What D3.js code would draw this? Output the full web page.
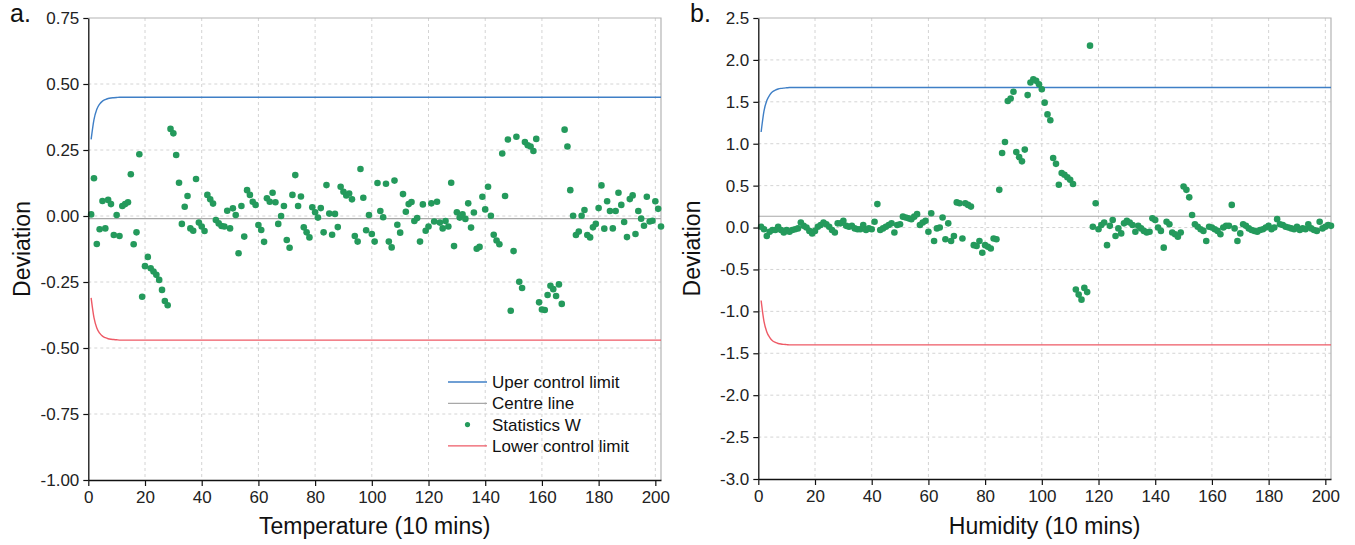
<!DOCTYPE html>
<html>
<head>
<meta charset="utf-8">
<script src="https://cdn.jsdelivr.net/npm/d3@7/dist/d3.min.js"></script>
<style>
  body { margin: 0; background: #fff; }
  text { font-family: "Liberation Sans", Arial, sans-serif; }
</style>
</head>
<body>
<div id="chart"></div>
<script>

// Statistics W, temperature (one value per 10-minute step, starting at step 1)
const tempW = [
  0.006, 0.143, -0.106, -0.05, 0.057, -0.047, 0.061, 0.045, -0.072, 0.004,
  -0.076, 0.038, 0.045, 0.052, 0.158, -0.107, -0.062, 0.234, -0.306, -0.19,
  -0.155, -0.198, -0.21, -0.223, -0.242, -0.28, -0.322, -0.338, 0.33, 0.313,
  0.231, 0.126, -0.03, 0.035, 0.076, -0.047, -0.056, 0.14, -0.025, -0.04,
  -0.057, 0.08, 0.063, 0.047, -0.015, -0.028, -0.038, -0.04, 0.02, -0.047,
  0.029, 0.004, -0.141, 0.038, -0.078, 0.098, 0.08, 0.054, 0.042, -0.034,
  -0.053, -0.098, 0.067, 0.054, 0.088, 0.052, -0.03, 0.0,
  0.038, -0.091, -0.12, 0.08, 0.155, 0.038, 0.074, -0.043, -0.062, -0.081,
  0.033, 0.014, -0.006, 0.03, -0.062, 0.117, 0.009, -0.071, 0.008, -0.042,
  0.111, 0.092, 0.078, 0.085, 0.063, -0.076, -0.097, 0.178, 0.069, -0.054,
  0.004, -0.068, -0.097, 0.125, 0.019, -0.005, 0.122, -0.097, -0.119, 0.134,
  -0.033, -0.063, 0.083, 0.016, 0.045, 0.053, -0.019, -0.008, -0.097, 0.044,
  -0.056, -0.04, 0.048, -0.021, 0.054, -0.025, -0.047, -0.019, -0.04, 0.126,
  -0.114, 0.014, -0.006, 0.006, -0.011,
  0.048, -0.044, 0.013, -0.124, -0.117, 0.073, 0.025, 0.111, 0.001, -0.071,
  -0.093, -0.107, 0.237, 0.076, 0.29, -0.359, -0.133, 0.30, -0.249, -0.273,
  0.28, 0.268, 0.263, 0.246, 0.292, -0.327, -0.354, -0.356, -0.299, -0.264,
  -0.277, -0.303, -0.259, -0.333, 0.327, 0.263, 0.098, 0.001, -0.072, -0.059,
  0.001, 0.023, -0.072, -0.081, -0.043, -0.03, 0.03, 0.116, -0.048, 0.056,
  0.019, -0.047, 0.019, 0.088, 0.042, -0.023, -0.08, 0.064, 0.078, -0.068,
  0.019, -0.01, -0.037, 0.073, -0.021, -0.018, 0.056, 0.027, -0.04
];

// Statistics W, humidity
const humW = [
  0.01, -0.02, -0.10, -0.05, -0.03, -0.03, 0.01, -0.03, -0.06, -0.03,
  -0.05, -0.03, -0.02, -0.01, 0.06, 0.02, 0.0, -0.04, -0.07, -0.04,
  0.01, 0.03, 0.06, 0.04, 0.01, -0.03, -0.06, 0.05, 0.05, 0.08,
  0.02, 0.01, 0.02, -0.01, -0.02, -0.02, 0.03, -0.03, -0.01, -0.02,
  0.07,
  0.28, -0.03, -0.01, 0.01, 0.03, 0.05, -0.06, 0.03, 0.04, 0.13,
  0.12, 0.11, 0.10, 0.13, 0.16, 0.03, 0.06, 0.08, -0.05, 0.17,
  -0.16, -0.01, 0.0, 0.12, -0.14, 0.05, -0.16, -0.10, 0.30, 0.29,
  -0.13, 0.29, 0.27, 0.25, -0.21, -0.22, -0.16, -0.30, -0.21, -0.23,
  -0.25, -0.13, -0.14, 0.45, 0.89, 1.02, 1.51, 1.54, 1.62, 0.90,
  0.84, 0.79, 0.93, 1.58, 1.73, 1.77, 1.75, 1.71, 1.65, 1.49,
  1.35, 1.28, 0.83, 0.76, 0.51, 0.65, 0.63, 0.60, 0.57, 0.52,
  -0.74, -0.80, -0.86, -0.72, -0.77, 2.17, 0.01, 0.29, -0.02, 0.03,
  0.06,
  -0.21, 0.02, 0.09, -0.10, -0.01, -0.07, 0.05, 0.08, 0.06, 0.03,
  -0.05, 0.02, -0.01, -0.04, -0.06, -0.05, 0.11, 0.09, 0.0, -0.04,
  -0.24, 0.07, 0.04, -0.06, -0.08, -0.11, -0.06, 0.49, 0.45, 0.36,
  0.15, 0.04, 0.01, -0.02, -0.04, -0.16, 0.01, 0.0, -0.02, -0.04,
  -0.08, 0.0, 0.02, 0.02, 0.27, -0.01, -0.16, -0.07, 0.04, 0.02,
  -0.01, -0.03, -0.04, -0.05, -0.03, -0.02, 0.0, 0.02, -0.02, 0.0,
  0.10, 0.04, 0.03, 0.01, 0.0, -0.01, -0.02, 0.01, -0.03, -0.01,
  -0.02, 0.04, -0.01, -0.03, -0.04, 0.07, -0.01, 0.01, 0.03, 0.02
];

// control limits: steps where the limit was read, then flat to the end
const limitSteps = [1, 2, 3, 4, 5, 6, 7, 8, 9, 10, 11, 202];
const tempUcl = [0.29, 0.365, 0.404, 0.424, 0.435, 0.441, 0.445, 0.447, 0.448, 0.449, 0.45, 0.45];
const tempLcl = [-0.31, -0.385, -0.424, -0.444, -0.455, -0.461, -0.465, -0.467, -0.468, -0.469, -0.47, -0.47];
const tempCentre = -0.01;
const humUcl = [1.14, 1.39, 1.515, 1.58, 1.62, 1.64, 1.653, 1.66, 1.664, 1.667, 1.67, 1.67];
const humLcl = [-0.87, -1.12, -1.245, -1.31, -1.35, -1.37, -1.383, -1.39, -1.394, -1.397, -1.40, -1.40];
const humCentre = 0.135;

// axes
const xTicks = [0, 20, 40, 60, 80, 100, 120, 140, 160, 180, 200];
const tempYTicks = [-1.00, -0.75, -0.50, -0.25, 0.00, 0.25, 0.50, 0.75];
const humYTicks = [-3.0, -2.5, -2.0, -1.5, -1.0, -0.5, 0.0, 0.5, 1.0, 1.5, 2.0, 2.5];
const legendLabels = ["Uper control limit", "Centre line", "Statistics W", "Lower control limit"];

const blue = "#3f7fc6", red = "#ee5a66", grey = "#a8a8a8", green = "#249a5c";

function drawPanel(svg, p) {

    const x = d3.scaleLinear().domain([0, 202]).range([p.left, p.right]);
    const y = d3.scaleLinear().domain(p.yDomain).range([p.bottom, p.top]);

    const g = svg.append("g");

    // dashed grid
    g.append("g").selectAll("line")
        .data(xTicks.filter(d => d > 0))
        .join("line")
        .attr("x1", d => x(d)).attr("x2", d => x(d))
        .attr("y1", p.top).attr("y2", p.bottom)
        .attr("stroke", "#d4d4d4").attr("stroke-dasharray", "3,3");
    g.append("g").selectAll("line")
        .data(p.yTicks.slice(1, -1))
        .join("line")
        .attr("x1", p.left).attr("x2", p.right)
        .attr("y1", d => y(d)).attr("y2", d => y(d))
        .attr("stroke", "#d4d4d4").attr("stroke-dasharray", "3,3");

    // top and right frame
    g.append("path")
        .attr("d", `M${p.left},${p.top}H${p.right}V${p.bottom}`)
        .attr("fill", "none").attr("stroke", "#b4b4b4").attr("stroke-width", 1.2);

    // centre line
    g.append("line")
        .attr("x1", x(0)).attr("x2", p.right)
        .attr("y1", y(p.centre)).attr("y2", y(p.centre))
        .attr("stroke", grey).attr("stroke-width", 1.2);

    const limit = d3.line()
        .x(d => x(d[0]))
        .y(d => y(d[1]))
        .curve(d3.curveMonotoneX);

    g.append("path")
        .datum(d3.zip(limitSteps, p.ucl))
        .attr("fill", "none").attr("stroke", blue).attr("stroke-width", 1.4)
        .attr("d", limit);
    g.append("path")
        .datum(d3.zip(limitSteps, p.lcl))
        .attr("fill", "none").attr("stroke", red).attr("stroke-width", 1.4)
        .attr("d", limit);

    // statistics W
    g.append("g").selectAll("circle")
        .data(p.values)
        .join("circle")
        .attr("cx", (d, i) => x(i + 1))
        .attr("cy", d => y(d))
        .attr("r", 3.3)
        .attr("fill", green);

    // axes
    const ax = g.append("g")
        .attr("transform", `translate(0,${p.bottom})`)
        .call(d3.axisBottom(x).tickValues(xTicks).tickSize(6).tickPadding(5).tickSizeOuter(0));
    const ay = g.append("g")
        .attr("transform", `translate(${p.left},0)`)
        .call(d3.axisLeft(y).tickValues(p.yTicks).tickFormat(d => d.toFixed(p.digits))
            .tickSize(5).tickPadding(4).tickSizeOuter(0));
    [ax, ay].forEach(a => {
        a.select(".domain").attr("stroke", "#111").attr("stroke-width", 1.3);
        a.selectAll(".tick line").attr("stroke", "#111").attr("stroke-width", 1.2);
        a.selectAll(".tick text")
            .attr("fill", "#222")
            .style("font-family", "'Liberation Sans', Arial, sans-serif")
            .style("font-size", "17px");
    });

    // titles
    g.append("text")
        .attr("x", (p.left + p.right) / 2)
        .attr("y", 534)
        .attr("text-anchor", "middle")
        .attr("font-size", "23px")
        .attr("fill", "#111")
        .text(p.xTitle);
    g.append("text")
        .attr("transform", `translate(${p.left - 58},${(p.top + p.bottom) / 2}) rotate(-90)`)
        .attr("text-anchor", "middle")
        .attr("font-size", "23px")
        .attr("fill", "#111")
        .text("Deviation");
    g.append("text")
        .attr("x", p.labelX)
        .attr("y", 22)
        .attr("font-size", "25px")
        .attr("fill", "#111")
        .text(p.label);

    return g;
}

function main() {

    const svg = d3.select("#chart")
        .append("svg")
        .attr("width", 1355)
        .attr("height", 545);

    const ga = drawPanel(svg, {
        left: 88.3, right: 661, top: 18, bottom: 480,
        yDomain: [-1, 0.75], yTicks: tempYTicks, digits: 2,
        values: tempW, ucl: tempUcl, lcl: tempLcl, centre: tempCentre,
        xTitle: "Temperature (10 mins)", label: "a.", labelX: 10
    });

    drawPanel(svg, {
        left: 758.3, right: 1331, top: 18, bottom: 479,
        yDomain: [-3, 2.5], yTicks: humYTicks, digits: 1,
        values: humW, ucl: humUcl, lcl: humLcl, centre: humCentre,
        xTitle: "Humidity (10 mins)", label: "b.", labelX: 690
    });

    // legend, panel a
    const legend = ga.append("g").attr("transform", "translate(448,382)");
    const rows = legend.selectAll("g")
        .data(legendLabels)
        .join("g")
        .attr("transform", (d, i) => `translate(0,${i * 21.3})`);
    rows.filter((d, i) => i !== 2).append("line")
        .attr("x1", 0).attr("x2", 39)
        .attr("stroke", (d, i) => [blue, grey, red][i])
        .attr("stroke-width", 1.3);
    rows.filter((d, i) => i === 2).append("circle")
        .attr("cx", 19.5).attr("r", 2.6).attr("fill", green);
    rows.append("text")
        .attr("x", 44)
        .attr("dy", "0.36em")
        .attr("font-size", "17px")
        .attr("fill", "#111")
        .text(d => d);
}

main()

</script>
</body>
</html>
